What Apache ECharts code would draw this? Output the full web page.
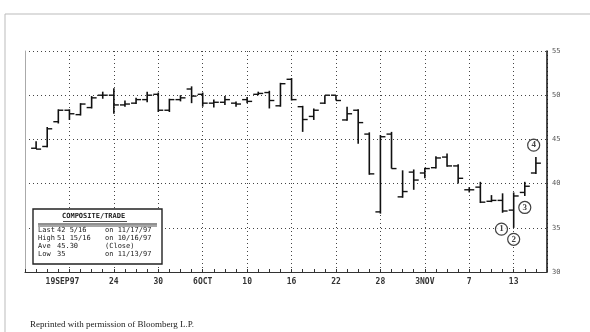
<!DOCTYPE html>
<html><head><meta charset="utf-8">
<script src="https://cdn.jsdelivr.net/npm/echarts@6/dist/echarts.min.js"></script>
<style>html,body{margin:0;padding:0;background:#fff;}#c{width:590px;height:332px;}</style>
</head><body><div id="c"></div>
<script>
var dates = ['9/15','9/16','9/17','9/18','9/19','9/22','9/23','9/24','9/25','9/26','9/29','9/30','10/1','10/2','10/3','10/6','10/7','10/8','10/9','10/10','10/13','10/14','10/15','10/16','10/17','10/20','10/21','10/22','10/23','10/24','10/27','10/28','10/29','10/30','10/31','11/3','11/4','11/5','11/6','11/7','11/10','11/11','11/12','11/13','11/14','11/17'];
var opens  = [44.0,44.2,47.0,48.3,47.8,48.6,50.0,50.0,48.9,49.1,49.5,50.1,48.3,49.5,50.7,50.1,49.1,49.2,49.1,49.5,50.1,50.3,48.8,51.8,48.7,47.6,49.1,50.0,47.2,48.3,45.6,36.8,45.6,38.5,41.3,41.2,41.8,43.0,42.0,39.3,39.6,38.0,38.1,37.0,39.0,41.2];
var highs  = [44.8,46.4,48.4,48.4,49.1,49.9,50.4,50.8,49.4,49.7,50.4,50.3,49.6,50.0,51.0,50.3,49.5,49.9,49.3,49.8,50.4,50.5,51.4,51.94,48.8,48.5,50.0,50.0,48.7,48.4,45.8,45.5,45.85,41.5,41.6,41.8,43.1,43.4,42.2,39.6,40.2,38.7,38.9,39.0,40.2,43.0];
var lows   = [43.9,44.1,46.8,47.2,47.7,48.5,49.6,47.9,48.7,49.0,49.2,48.1,48.1,49.3,49.1,48.7,48.6,48.9,48.7,49.1,50.0,48.5,48.7,49.4,45.85,47.2,49.0,49.4,47.1,44.5,41.0,36.6,41.7,38.4,39.3,40.6,41.7,41.9,40.0,39.0,37.8,37.9,36.7,35.0,38.6,41.1];
var closes = [43.9,46.2,48.3,47.9,49.0,49.7,50.0,48.9,49.0,49.5,50.0,48.3,49.5,49.7,49.9,49.1,49.2,49.5,49.0,49.3,50.2,49.4,51.3,49.5,47.25,48.3,50.0,49.4,47.9,46.9,41.1,45.3,41.7,39.1,40.4,41.7,42.9,42.0,40.6,39.3,37.9,38.1,36.9,38.6,39.7,42.31];
var tickLabels = ['19SEP97','24','30','6OCT','10','16','22','28','3NOV','7','13'];
var notes = [[41.9,34.85,'1'],[43.0,33.7,'2'],[44.0,37.3,'3'],[44.8,44.35,'4']];
var boxTitle = 'COMPOSITE/TRADE';
var boxRows = [['Last','42 5/16','on 11/17/97'],['High','51 15/16','on 10/16/97'],['Ave','45.30','(Close)'],['Low','35','on 11/13/97']];

var rows = dates.map(function(d,i){return [i,opens[i],highs[i],lows[i],closes[i]];});
var chart = echarts.init(document.getElementById('c'));
var mono = 'DejaVu Sans Mono';
var boxFont = '7px "'+mono+'"';
var graphics = [
  {type:'rect',shape:{x:5,y:14,width:590,height:330},style:{fill:'none',stroke:'#bbb',lineWidth:1},silent:true},
  {type:'rect',shape:{x:33,y:209,width:129,height:55},style:{fill:'#fff',stroke:'#222',lineWidth:1.4},z:10},
  {type:'text',x:62,y:213,z:11,style:{text:boxTitle,font:'bold 7px "'+mono+'"',fill:'#222'}},
  {type:'line',z:11,shape:{x1:63,y1:221.5,x2:127,y2:221.5},style:{stroke:'#222',lineWidth:0.8}},
  {type:'line',z:11,shape:{x1:38,y1:224,x2:157,y2:224},style:{stroke:'#222',lineWidth:1}},
  {type:'line',z:11,shape:{x1:38,y1:226,x2:157,y2:226},style:{stroke:'#222',lineWidth:0.8}},
  {type:'text',x:30,y:320,style:{text:'Reprinted with permission of Bloomberg L.P.',font:'9px "Liberation Serif"',fill:'#222'}}
];
boxRows.forEach(function(r,k){
  var y = 227 + k*8;
  graphics.push({type:'text',x:38,y:y,z:11,style:{text:r[0],font:boxFont,fill:'#222'}});
  graphics.push({type:'text',x:57,y:y,z:11,style:{text:r[1],font:boxFont,fill:'#222'}});
  graphics.push({type:'text',x:105,y:y,z:11,style:{text:r[2],font:boxFont,fill:'#222'}});
});
var option = {
  backgroundColor:'#fff',
  animation:false,
  grid:{left:25,right:43,top:51,bottom:60},
  xAxis:{type:'value',min:-1,max:46,interval:4,
    axisLine:{show:true,onZero:false,lineStyle:{color:'#333',width:1}},
    axisTick:{show:true,inside:true,length:3,lineStyle:{color:'#333'}},
    minorTick:{show:true,splitNumber:4,length:3,lineStyle:{color:'#333'}},
    splitLine:{show:true,lineStyle:{color:'#444',width:1,type:[1,3]}},
    axisLabel:{margin:6,fontFamily:mono,fontSize:8,color:'#333',fontWeight:'bold',
      formatter:function(v){var k=(v-3)/4; if(k>=0 && k<tickLabels.length && k===Math.round(k)){return k===0?'{a|'+tickLabels[k]+'}':tickLabels[k];} return '';},
      rich:{a:{fontFamily:mono,fontSize:8,color:'#333',fontWeight:'bold',padding:[0,14,0,0]}}}
  },
  yAxis:[{type:'value',position:'right',min:30,max:55,interval:5,
    axisLine:{show:true,onZero:false,lineStyle:{color:'#111',width:1.5}},
    axisTick:{show:false},
    splitLine:{show:true,lineStyle:{color:'#444',width:1,type:[1,3]}},
    axisLabel:{margin:5,fontFamily:mono,fontSize:7,color:'#555'}
  },{type:'value',position:'left',min:30,max:55,interval:5,
    axisLine:{show:true,onZero:false,lineStyle:{color:'#aaa',width:1}},axisTick:{show:false},axisLabel:{show:false},splitLine:{show:false}}],
  graphic:graphics,
  series:[{type:'custom',data:rows,encode:{x:0,y:[1,2,3,4]},
    renderItem:function(params,api){
      var x=api.value(0);
      var o=api.coord([x,api.value(1)]), h=api.coord([x,api.value(2)]), l=api.coord([x,api.value(3)]), c=api.coord([x,api.value(4)]);
      return {type:'group',children:[
        {type:'line',shape:{x1:h[0],y1:h[1],x2:l[0],y2:l[1]},style:{stroke:'#111',lineWidth:1.6}},
        {type:'line',shape:{x1:o[0]-5,y1:o[1],x2:o[0],y2:o[1]},style:{stroke:'#111',lineWidth:1.4}},
        {type:'line',shape:{x1:c[0],y1:c[1],x2:c[0]+5,y2:c[1]},style:{stroke:'#111',lineWidth:1.4}}
      ]};
    },z:5},
    {type:'scatter',data:notes,symbol:'circle',symbolSize:12,z:6,
      itemStyle:{color:'#fff',borderColor:'#111',borderWidth:1.2},
      label:{show:true,position:'inside',formatter:function(p){return p.data[2];},fontFamily:'Liberation Serif',fontWeight:'bold',fontSize:9,color:'#111'}}
  ]
};
chart.setOption(option);
</script></body></html>
